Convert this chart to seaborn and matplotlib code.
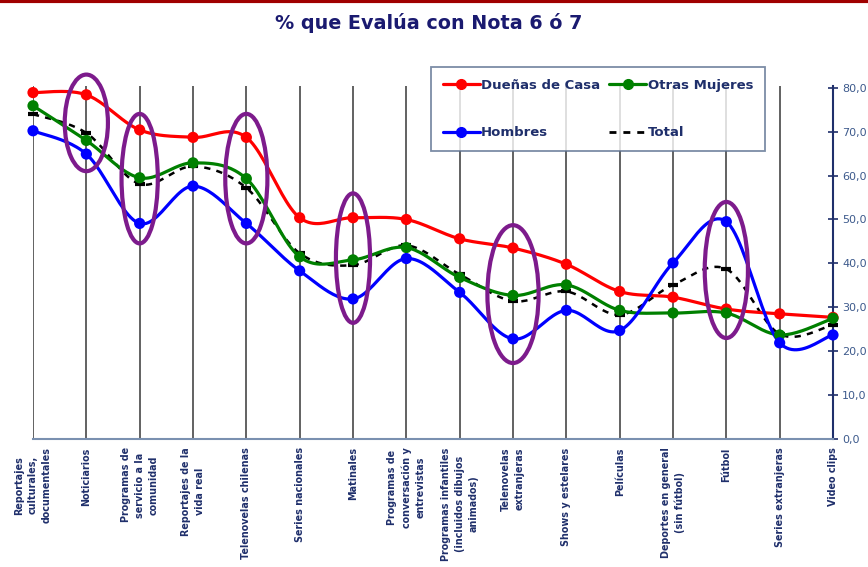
import numpy as np
import matplotlib.pyplot as plt
import seaborn as sns
from matplotlib.patches import Ellipse
from matplotlib.lines import Line2D

# categorias y valores (% que evalua con nota 6 o 7)
categorias = [
    "Reportajes\nculturales,\ndocumentales", "Noticiarios",
    "Programas de\nservicio a la\ncomunidad", "Reportajes de la\nvida real",
    "Telenovelas chilenas", "Series nacionales", "Matinales",
    "Programas de\nconversación y\nentrevistas",
    "Programas infantiles\n(incluidos dibujos\nanimados)",
    "Telenovelas\nextranjeras", "Shows y estelares", "Películas",
    "Deportes en general\n(sin fútbol)", "Fútbol", "Series extranjeras",
    "Video clips",
]
duenas = [78.9, 78.4, 70.4, 68.7, 68.7, 50.4, 50.4, 50.0, 45.6, 43.5, 39.8, 33.6, 32.3, 29.6, 28.5, 27.7]
otras = [75.9, 68.0, 59.5, 62.9, 59.3, 41.5, 40.8, 43.6, 36.8, 32.7, 35.1, 29.3, 28.7, 28.7, 23.7, 27.5]
hombres = [70.2, 64.9, 49.1, 57.6, 49.1, 38.3, 31.9, 41.1, 33.4, 22.8, 29.3, 24.7, 40.1, 49.5, 21.9, 23.7]
total = [74.0, 69.7, 58.1, 62.1, 57.2, 42.3, 39.6, 44.1, 37.5, 31.4, 33.6, 28.3, 35.1, 38.7, 23.9, 26.0]

# categorias marcadas con elipse
destacadas = [1, 2, 4, 6, 9, 13]

navy = "#1f2f6b"


def suavizar(vals, n=24):
    # curva suavizada tipo excel (bezier con tangentes de catmull-rom)
    p = np.column_stack([np.arange(len(vals), dtype=float), np.asarray(vals, float)])
    ext = np.vstack([p[0], p, p[-1]])
    t = np.linspace(0, 1, n, endpoint=False)[:, None]
    segs = []
    for i in range(len(p) - 1):
        p0, p1, p2, p3 = ext[i], ext[i + 1], ext[i + 2], ext[i + 3]
        c1 = p1 + (p2 - p0) / 6
        c2 = p2 - (p3 - p1) / 6
        segs.append((1 - t) ** 3 * p1 + 3 * (1 - t) ** 2 * t * c1 + 3 * (1 - t) * t ** 2 * c2 + t ** 3 * p2)
    segs.append(p[-1][None])
    return np.vstack(segs)


sns.set_style("white")
plt.rcParams["font.family"] = ["DejaVu Sans"]

fig = plt.figure(figsize=(8.68, 5.67), dpi=100)
ax = fig.add_axes([33 / 868, 1 - 439 / 567, 800 / 868, 353 / 567])

x = np.arange(len(categorias))
series = [
    ("Dueñas de Casa", duenas, "#ff0000"),
    ("Otras Mujeres", otras, "#008000"),
    ("Hombres", hombres, "#0000ff"),
]

for nombre, vals, col in series:
    c = suavizar(vals)
    sns.lineplot(x=c[:, 0], y=c[:, 1], sort=False, estimator=None, color=col,
                 lw=2.3, ax=ax, zorder=4, clip_on=False)
    sns.scatterplot(x=x, y=vals, color=col, s=65, edgecolor="none", ax=ax,
                    zorder=5, clip_on=False)

c = suavizar(total)
sns.lineplot(x=c[:, 0], y=c[:, 1], sort=False, estimator=None, color="black",
             lw=1.8, ax=ax, zorder=3, clip_on=False, linestyle=(0, (2.5, 2.5)))
sns.scatterplot(x=x, y=total, color="black", marker="_", s=55, linewidth=3,
                ax=ax, zorder=3, clip_on=False)

# elipses
elipses = {1: (72.0, 0.81, 22.0), 2: (59.3, 0.68, 29.5), 4: (59.3, 0.79, 29.5),
           6: (41.2, 0.64, 29.5), 9: (33.0, 0.96, 31.4), 13: (38.5, 0.81, 31.0)}
for i in destacadas:
    yc, w, h = elipses[i]
    ax.add_patch(Ellipse((i, yc), w, h, fill=False, edgecolor="#7d1b8c",
                         lw=3, zorder=6, clip_on=False))

ax.set_xlim(0, 15)
ax.set_ylim(0, 80.4)
ax.set_xticks(x)
ax.set_xticklabels(categorias, rotation=90, fontsize=6.9, fontweight="bold",
                   color=navy, va="top", ha="center", multialignment="center",
                   linespacing=1.45)
ax.set_yticks(np.arange(0, 81, 10))
ax.set_yticklabels([f"{v:.1f}".replace(".", ",") for v in np.arange(0, 81, 10)],
                   fontsize=8, color="#3d5a8c")
ax.yaxis.tick_right()
ax.tick_params(axis="y", direction="inout", length=7, width=1.2, color=navy, pad=3)
ax.tick_params(axis="x", direction="out", length=4, width=1, color="#7a90b0", pad=2)
ax.xaxis.grid(True, color="#555555", lw=1.3)
ax.yaxis.grid(False)
ax.set_axisbelow(True)
for s in ["top", "left"]:
    ax.spines[s].set_visible(False)
ax.spines["right"].set_color(navy)
ax.spines["right"].set_linewidth(1.5)
ax.spines["bottom"].set_color("#7a90b0")
ax.spines["bottom"].set_linewidth(1.5)

# leyenda
handles = [
    Line2D([], [], color="#ff0000", lw=2.3, marker="o", ms=7),
    Line2D([], [], color="#0000ff", lw=2.3, marker="o", ms=7),
    Line2D([], [], color="#008000", lw=2.3, marker="o", ms=7),
    Line2D([], [], color="black", lw=2, linestyle=(0, (2.5, 2.5))),
]
labels = ["Dueñas de Casa", "Hombres", "Otras Mujeres", "Total"]
leg = fig.legend(handles, labels, ncol=2, loc="center",
                 bbox_to_anchor=(431 / 868, 1 - 158 / 567, 334 / 868, 98 / 567),
                 mode="expand", fancybox=False, frameon=True, handlelength=2.8,
                 handletextpad=0.1, columnspacing=0.3, labelspacing=2.6,
                 borderpad=0.9, borderaxespad=0,
                 prop={"weight": "bold", "size": 9.5})
leg.get_frame().set_edgecolor("#5b7090")
leg.get_frame().set_linewidth(1.3)
for t in leg.get_texts():
    t.set_color(navy)

fig.text(0.494, 0.959, "% que Evalúa con Nota 6 ó 7", ha="center", va="center",
         fontsize=13.8, fontweight="bold", color="#1a1a70")
fig.add_artist(Line2D([0, 1], [0.998, 0.998], color="#a00000", lw=3,
                      transform=fig.transFigure))

fig.savefig("out.png", dpi=100)
